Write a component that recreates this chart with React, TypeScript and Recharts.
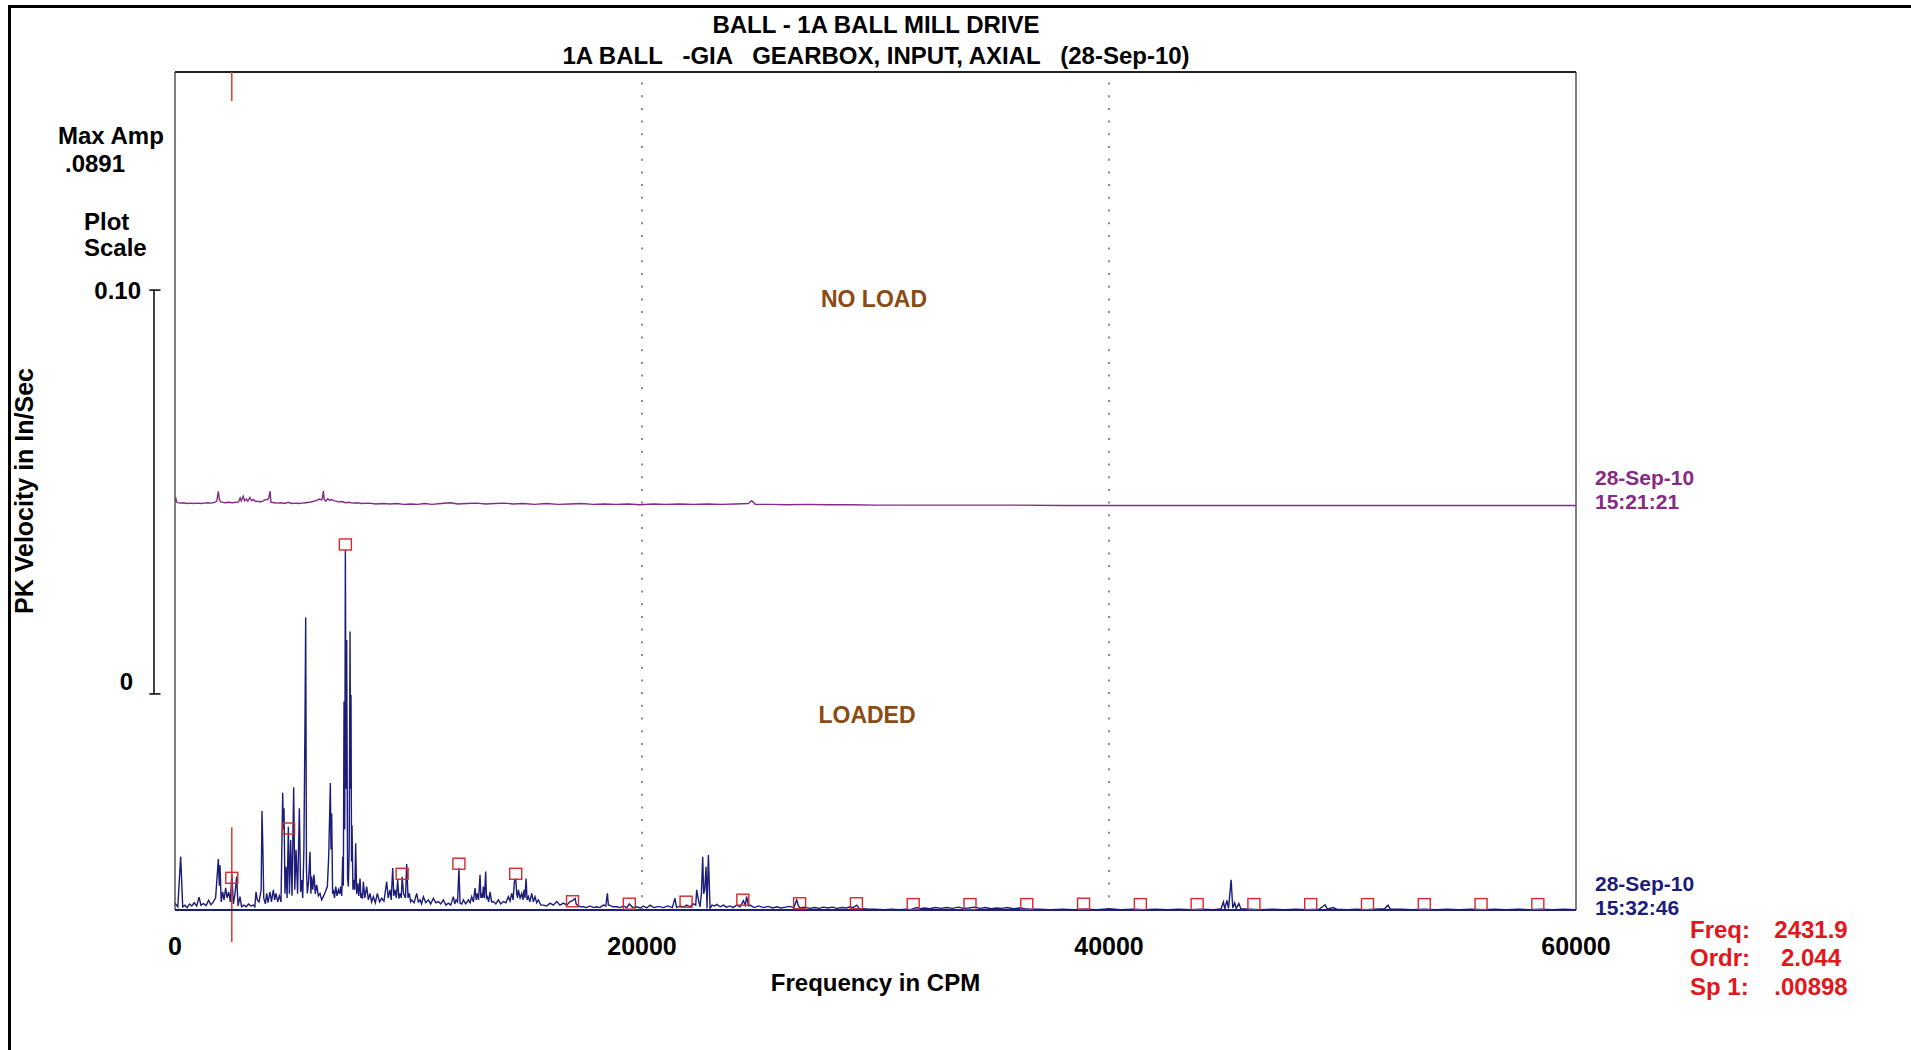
import React from "react";
import { ComposedChart, Line, Scatter, XAxis, YAxis, ReferenceLine } from "recharts";

// Waterfall spectrum plot: two velocity spectra (no load / loaded) stacked
// with a 0.10 in/sec offset, harmonic cursor at 2431.9 CPM.

type Pt = [number, number]; // [CPM, PK in/sec]

const FONT = "'Liberation Sans', Arial, sans-serif";
const NAVY = "#1c1c7a";
const PURPLE = "#862a86";
const RED = "#e3161c";
const BROWN = "#8b4a12";

const AMP_TOP = 0.2074;
const NOLOAD_OFFSET = 0.1;
const CURSOR_CPM = 2431.9;

const X_TICKS = [0, 20000, 40000, 60000];
const GRID_CPM = [20000, 40000];
const SCALE_TICKS = [0, 0.1];

// loaded run, 15:32:46
const LOADED_0_4K: Pt[] = [
  [0, 0.0017], [120, 0.0008], [243, 0.0132], [330, 0.0008], [420, 0.0012], [520, 0.0006],
  [620, 0.0015], [720, 0.001], [820, 0.0018], [930, 0.001], [1030, 0.0032], [1110, 0.0012],
  [1220, 0.0016], [1330, 0.0011], [1440, 0.0024], [1540, 0.0013], [1640, 0.002], [1740, 0.003],
  [1856, 0.0126], [1900, 0.006], [1928, 0.0111], [1980, 0.002], [2040, 0.0045], [2100, 0.0025],
  [2170, 0.0055], [2230, 0.003], [2300, 0.0045], [2370, 0.002], [2432, 0.009], [2500, 0.0015],
  [2570, 0.004], [2641, 0.0083], [2700, 0.001], [2784, 0.0033], [2850, 0.0008], [2950, 0.0012],
  [3050, 0.0008], [3150, 0.0015], [3250, 0.001], [3350, 0.0012], [3420, 0.0008], [3469, 0.0045],
  [3527, 0.0025], [3600, 0.002], [3690, 0.005], [3726, 0.0245], [3760, 0.0161], [3800, 0.003],
  [3870, 0.0015], [3926, 0.0041], [3980, 0.0018],
];
const LOADED_4K_8K: Pt[] = [
  [4069, 0.0045], [4130, 0.002], [4212, 0.005], [4270, 0.0025], [4326, 0.0041], [4400, 0.002],
  [4470, 0.0035], [4540, 0.002], [4612, 0.029], [4640, 0.02], [4669, 0.0252], [4710, 0.004],
  [4754, 0.0107], [4800, 0.003], [4854, 0.0206], [4900, 0.004], [4954, 0.0173], [5010, 0.0035],
  [5083, 0.0304], [5130, 0.005], [5183, 0.0149], [5250, 0.004], [5326, 0.0252], [5380, 0.0045],
  [5425, 0.0074], [5470, 0.003], [5520, 0.0149], [5568, 0.047], [5597, 0.0724], [5630, 0.01],
  [5668, 0.0041], [5720, 0.007], [5782, 0.0144], [5820, 0.004], [5854, 0.0083], [5900, 0.005],
  [5954, 0.0087], [6010, 0.004], [6068, 0.0062], [6140, 0.0035], [6211, 0.0041], [6280, 0.0025],
  [6353, 0.0033], [6440, 0.0045], [6525, 0.0058], [6582, 0.0132], [6653, 0.0314], [6680, 0.015],
  [6710, 0.0239], [6750, 0.004], [6782, 0.005], [6830, 0.003], [6882, 0.0058], [6940, 0.0035],
  [6996, 0.005], [7050, 0.004], [7096, 0.0058], [7140, 0.0035], [7182, 0.0132], [7210, 0.006],
  [7239, 0.0516], [7270, 0.02], [7296, 0.0891], [7330, 0.03], [7353, 0.0668], [7390, 0.008],
  [7424, 0.0058], [7460, 0.015], [7496, 0.0689], [7520, 0.03], [7538, 0.0532], [7560, 0.012],
  [7581, 0.021], [7620, 0.005], [7667, 0.0074], [7700, 0.005], [7738, 0.0165], [7780, 0.004],
  [7824, 0.0066], [7870, 0.0035], [7924, 0.0078], [7960, 0.003],
];
const LOADED_8K_14K: Pt[] = [
  [7995, 0.0041], [8030, 0.0028], [8067, 0.007], [8130, 0.003], [8209, 0.0058], [8280, 0.0025],
  [8352, 0.0041], [8420, 0.002], [8495, 0.0033], [8580, 0.0018], [8666, 0.0041], [8760, 0.002],
  [8852, 0.0029], [8950, 0.0022], [9066, 0.007], [9130, 0.003], [9209, 0.005], [9260, 0.0025],
  [9323, 0.0104], [9370, 0.0035], [9423, 0.005], [9480, 0.003], [9537, 0.0074], [9590, 0.0028],
  [9637, 0.0041], [9690, 0.003], [9728, 0.0082], [9790, 0.004], [9870, 0.003], [9923, 0.0114],
  [9980, 0.003], [10037, 0.0041], [10090, 0.002], [10137, 0.0025], [10240, 0.0018], [10351, 0.0041],
  [10420, 0.002], [10494, 0.0025], [10560, 0.0015], [10637, 0.0033], [10740, 0.0018], [10851, 0.0025],
  [10950, 0.0015], [11065, 0.0029], [11170, 0.0018], [11279, 0.0021], [11380, 0.0015], [11493, 0.0025],
  [11600, 0.0012], [11707, 0.0017], [11810, 0.0012], [11921, 0.0033], [11980, 0.0015], [12036, 0.0025],
  [12100, 0.002], [12160, 0.0103], [12207, 0.0017], [12280, 0.0015], [12350, 0.0025], [12450, 0.0015],
  [12564, 0.0025], [12640, 0.0018], [12707, 0.0033], [12780, 0.002], [12850, 0.0054], [12900, 0.0025],
  [12949, 0.0041], [13000, 0.0025], [13064, 0.0087], [13100, 0.003], [13135, 0.0041], [13170, 0.003],
  [13206, 0.0058], [13250, 0.003], [13306, 0.0095], [13340, 0.003], [13378, 0.0033], [13430, 0.002],
  [13492, 0.0045], [13560, 0.002], [13635, 0.0021], [13740, 0.0015], [13849, 0.0025], [13950, 0.0015],
];
const LOADED_14K_22K: Pt[] = [
  [14063, 0.0021], [14170, 0.0018], [14277, 0.0033], [14350, 0.0022], [14420, 0.0041], [14480, 0.0025],
  [14534, 0.007], [14591, 0.0078], [14634, 0.0041], [14670, 0.003], [14705, 0.005], [14780, 0.003],
  [14848, 0.0041], [14900, 0.0025], [14948, 0.005], [14990, 0.003], [15034, 0.0078], [15080, 0.0025],
  [15134, 0.0033], [15200, 0.002], [15277, 0.0041], [15350, 0.002], [15419, 0.0033], [15490, 0.0018],
  [15562, 0.0025], [15670, 0.0012], [15776, 0.0012], [15920, 0.001], [16062, 0.0017], [16200, 0.0012],
  [16347, 0.0021], [16490, 0.0012], [16633, 0.0017], [16780, 0.0012], [16918, 0.0021], [17023, 0.0023],
  [17133, 0.0029], [17180, 0.0015], [17233, 0.0012], [17360, 0.0008], [17489, 0.0008], [17630, 0.0006],
  [17775, 0.001], [17920, 0.0006], [18061, 0.0008], [18200, 0.0006], [18346, 0.0012], [18450, 0.001],
  [18517, 0.0041], [18560, 0.0012], [18603, 0.0012], [18760, 0.0008], [18917, 0.0008], [19060, 0.0006],
  [19203, 0.001], [19350, 0.0006], [19455, 0.0015], [19600, 0.0006], [19774, 0.0008], [19920, 0.0005],
  [20060, 0.001], [20200, 0.0005], [20345, 0.0012], [20500, 0.0006], [20700, 0.0009], [20916, 0.0006],
  [21100, 0.001], [21300, 0.0006], [21412, 0.0029], [21480, 0.0006], [21630, 0.001], [21780, 0.0007],
  [21915, 0.0012], [22050, 0.0008], [22200, 0.0015], [22300, 0.0012],
];
const LOADED_22K_38K: Pt[] = [
  [22343, 0.005], [22415, 0.0025], [22486, 0.0008], [22543, 0.004], [22600, 0.0132], [22640, 0.004],
  [22686, 0.005], [22743, 0.0107], [22785, 0.0004], [22843, 0.0136], [22914, 0.0004], [23000, 0.0012],
  [23100, 0.001], [23200, 0.0014], [23350, 0.0008], [23486, 0.0012], [23620, 0.0007], [23771, 0.001],
  [23900, 0.0006], [24057, 0.0012], [24200, 0.0008], [24342, 0.0023], [24420, 0.0012], [24485, 0.0033],
  [24560, 0.001], [24628, 0.0012], [24800, 0.0006], [25000, 0.001], [25199, 0.0006], [25400, 0.0009],
  [25600, 0.0005], [25770, 0.0008], [25950, 0.0005], [26150, 0.0007], [26341, 0.0009], [26500, 0.0006],
  [26627, 0.0025], [26700, 0.001], [26770, 0.0005], [26950, 0.0007], [27198, 0.0004], [27400, 0.0006],
  [27600, 0.0004], [27769, 0.0007], [27950, 0.0005], [28150, 0.0007], [28340, 0.0004], [28550, 0.0006],
  [28750, 0.0005], [28911, 0.0008], [29050, 0.0006], [29196, 0.0012], [29300, 0.0004], [29482, 0.0003],
  [29700, 0.0002], [30000, 0.0002], [30339, 0.0001], [30700, 0.0002], [31000, 0.0001], [31338, 0.0002],
  [31500, 0.0001], [31766, 0.0006], [31900, 0.0003], [32100, 0.0005], [32337, 0.0003], [32550, 0.0006],
  [32800, 0.0004], [33051, 0.0006], [33300, 0.0004], [33550, 0.0007], [33765, 0.0004], [34000, 0.0005],
  [34250, 0.0007], [34479, 0.0004], [34700, 0.0006], [34950, 0.0003], [35193, 0.0005], [35400, 0.0004],
  [35650, 0.0006], [35907, 0.0003], [36150, 0.0005], [36400, 0.0003], [36620, 0.0002], [37000, 0.0002],
  [37477, 0.0001],
];
const LOADED_38K_60K: Pt[] = [
  [38000, 0.0002], [38500, 0.0001], [39000, 0.0002], [39500, 0.0001], [40000, 0.0003], [40500, 0.0001],
  [41000, 0.0002], [41500, 0.0001], [42000, 0.0002], [42500, 0.0001], [43000, 0.0002], [43500, 0.0001],
  [44000, 0.0002], [44500, 0.0001], [44800, 0.0003], [44900, 0.002], [44960, 0.0003], [45050, 0.0024],
  [45120, 0.0004], [45230, 0.0075], [45300, 0.0005], [45380, 0.0018], [45450, 0.0004], [45560, 0.0016],
  [45650, 0.0003], [46000, 0.0002], [46500, 0.0001], [47000, 0.0002], [47500, 0.0001], [48000, 0.0002],
  [48500, 0.0001], [49000, 0.0002], [49250, 0.0013], [49350, 0.0002], [49600, 0.0006], [49750, 0.0002],
  [50200, 0.0001], [50600, 0.0002], [51000, 0.0001], [51400, 0.0002], [51800, 0.0003], [51950, 0.0012],
  [52050, 0.0002], [52500, 0.0002], [53000, 0.0001], [53500, 0.0002], [54000, 0.0001], [54500, 0.0002],
  [55000, 0.0001], [55500, 0.0002], [56000, 0.0001], [56500, 0.0002], [57000, 0.0001], [57500, 0.0002],
  [58000, 0.0001], [58500, 0.0002], [59000, 0.0001], [59500, 0.0002], [60000, 0.0001],
];

// no-load run, 15:21:21 (plotted 0.10 higher)
const NOLOAD_0_8K: Pt[] = [
  [0, 0.001], [40, 0.0018], [80, 0.0009], [200, 0.0007], [350, 0.0008], [500, 0.0006], [650, 0.0007],
  [800, 0.0006], [950, 0.0007], [1100, 0.0006], [1250, 0.0007], [1400, 0.0008], [1550, 0.0007],
  [1700, 0.0009], [1790, 0.0012], [1855, 0.0036], [1900, 0.0016], [1960, 0.001], [2050, 0.0009],
  [2150, 0.0008], [2300, 0.0009], [2450, 0.0008], [2600, 0.0009], [2720, 0.001], [2790, 0.002],
  [2840, 0.0012], [2920, 0.0024], [2980, 0.0013], [3060, 0.0017], [3120, 0.0012], [3210, 0.0021],
  [3280, 0.0013], [3360, 0.0016], [3440, 0.0011], [3540, 0.0012], [3640, 0.001], [3760, 0.0012],
  [3850, 0.0015], [3960, 0.0016], [4020, 0.002], [4069, 0.0037], [4110, 0.0009], [4250, 0.0008],
  [4400, 0.0007], [4550, 0.0008], [4700, 0.0006], [4850, 0.0009], [5000, 0.0006], [5150, 0.0007],
  [5300, 0.0006], [5450, 0.0007], [5600, 0.0008], [5750, 0.0009], [5900, 0.0011], [6050, 0.0013],
  [6180, 0.0017], [6280, 0.0015], [6320, 0.0022], [6353, 0.0037], [6390, 0.0016], [6460, 0.0012],
  [6540, 0.0018], [6620, 0.0014], [6700, 0.0016], [6800, 0.0013], [6900, 0.0012], [7000, 0.001],
  [7150, 0.0011], [7300, 0.0008], [7450, 0.0009], [7600, 0.0007], [7800, 0.0008],
];
const NOLOAD_8K_60K: Pt[] = [
  [8000, 0.0006], [8300, 0.0007], [8600, 0.0005], [8900, 0.0006], [9200, 0.0005], [9500, 0.0006],
  [9800, 0.0004], [10100, 0.0005], [10400, 0.0004], [10700, 0.0006], [11000, 0.0004], [11400, 0.0006],
  [11800, 0.0008], [12100, 0.0005], [12500, 0.0006], [12900, 0.0007], [13300, 0.0005], [13700, 0.0006],
  [14100, 0.0007], [14500, 0.0005], [14900, 0.0006], [15400, 0.0004], [15900, 0.0006], [16400, 0.0004],
  [16900, 0.0005], [17400, 0.0006], [17900, 0.0004], [18400, 0.0005], [18900, 0.0004], [19400, 0.0005],
  [19900, 0.0003], [20500, 0.0005], [21000, 0.0004], [21600, 0.0005], [22200, 0.0004], [22800, 0.0005],
  [23400, 0.0004], [24000, 0.0005], [24550, 0.0006], [24700, 0.0013], [24850, 0.0004], [25500, 0.0004],
  [26200, 0.0003], [27000, 0.0004], [28000, 0.0003], [29000, 0.0003], [30000, 0.0002], [32000, 0.0002],
  [34000, 0.0002], [36000, 0.0002], [38000, 0.0001], [40000, 0.0001], [44000, 0.0001], [48000, 0.0001],
  [52000, 0.0001], [56000, 0.0001], [60000, 0.0001],
];

// harmonic markers of the cursor frequency (box sits on top of the value)
const HARMONIC_CPM = [
  2431.9, 4863.8, 7295.7, 9727.6, 12159.5, 14591.4, 17023.3, 19455.2, 21887.1, 24319.0, 26750.9, 29182.8,
  31614.7, 34046.6, 36478.5, 38910.4, 41342.3, 43774.2, 46206.1, 48638.0, 51069.9, 53501.8, 55933.7, 58365.6,
];
const HARMONIC_AMP = [
  0.0066, 0.0188, 0.0891, 0.0076, 0.0101, 0.0076, 0.0008, 0.0002, 0.0007, 0.0012, 0.0003, 0.0003,
  0.0001, 0.0001, 0.0001, 0.0002, 0.0001, 0.0001, 0.0001, 0.0001, 0.0001, 0.0001, 0.0001, 0.0001,
];

const loadedData = [
  ...LOADED_0_4K, ...LOADED_4K_8K, ...LOADED_8K_14K, ...LOADED_14K_22K, ...LOADED_22K_38K, ...LOADED_38K_60K,
].map(([f, v]) => ({ f, v }));
const noLoadData = [...NOLOAD_0_8K, ...NOLOAD_8K_60K].map(([f, v]) => ({ f, v: v + NOLOAD_OFFSET }));
const markerData = HARMONIC_CPM.map((f, i) => ({ f, v: HARMONIC_AMP[i] }));

const bold = { fontFamily: FONT, fontWeight: "bold" as const };

function MarkerBox(props: any) {
  const { cx, cy } = props;
  if (cx == null || cy == null) return null;
  return <rect x={cx - 6} y={cy - 11} width={12} height={11} fill="none" stroke="#d42a2a" strokeWidth={1.4} />;
}

export default function App() {
  const txt = (x: number, y: number, s: string, fill = "#000", anchor: "start" | "middle" | "end" = "start", size = 24) => (
    <text x={x} y={y} textAnchor={anchor} dominantBaseline="central" fontSize={size} fill={fill} style={{ whiteSpace: "pre" }} {...bold}>
      {s}
    </text>
  );

  return (
    <div style={{ position: "absolute", left: 0, top: 0, width: 1911, height: 1050, background: "#fff" }}>
      <div style={{ position: "absolute", left: 8, top: 5, width: 1903, height: 1045, borderLeft: "3px solid #000", borderTop: "3px solid #000", boxSizing: "border-box" }} />
      <ComposedChart width={1911} height={1050} margin={{ top: 72, right: 335, bottom: 0, left: 0 }}>
        <XAxis
          type="number"
          dataKey="f"
          domain={[0, 60000]}
          ticks={X_TICKS}
          interval={0}
          height={140}
          tickLine={false}
          tickSize={6}
          tickMargin={21}
          axisLine={{ stroke: NAVY, strokeWidth: 2 }}
          tick={{ fontSize: 25, fill: "#000", ...bold }}
          allowDataOverflow
          label={{ value: "Frequency in CPM", position: "insideBottom", offset: 59, style: { fontSize: 24, fill: "#000", ...bold } }}
        />
        <YAxis yAxisId="amp" hide type="number" domain={[0, AMP_TOP]} allowDataOverflow />
        <YAxis
          yAxisId="scale"
          type="number"
          domain={[-0.0535, 0.154]}
          ticks={SCALE_TICKS}
          interval={0}
          width={175}
          axisLine={false}
          tickLine={false}
          tick={false}
          allowDataOverflow
        />

        {GRID_CPM.map((g) => (
          <ReferenceLine key={g} yAxisId="amp" x={g} stroke="#666" strokeWidth={1.5} strokeDasharray="2 10.7" />
        ))}
        <ReferenceLine yAxisId="amp" x={0} stroke="#7f7f7f" strokeWidth={2} ifOverflow="visible" />
        <ReferenceLine yAxisId="amp" x={60000} stroke="#7f7f7f" strokeWidth={2} ifOverflow="visible" />
        <ReferenceLine yAxisId="amp" y={AMP_TOP} stroke="#222" strokeWidth={2} ifOverflow="visible" />

        {/* plot scale bracket */}
        <ReferenceLine yAxisId="scale" ifOverflow="visible" stroke="#000" strokeWidth={1.5} segment={[{ x: -900, y: 0 }, { x: -900, y: 0.1 }]} />
        <ReferenceLine yAxisId="scale" ifOverflow="visible" stroke="#000" strokeWidth={1.5} segment={[{ x: -1100, y: 0.1 }, { x: -620, y: 0.1 }]} />
        <ReferenceLine yAxisId="scale" ifOverflow="visible" stroke="#000" strokeWidth={1.5} segment={[{ x: -1100, y: 0 }, { x: -620, y: 0 }]} />

        <Line yAxisId="amp" data={noLoadData} dataKey="v" type="linear" stroke={PURPLE} strokeWidth={1.4} dot={false} isAnimationActive={false} />
        <Line yAxisId="amp" data={loadedData} dataKey="v" type="linear" stroke={NAVY} strokeWidth={1.4} dot={false} isAnimationActive={false} />
        <Scatter yAxisId="amp" data={markerData} dataKey="v" shape={<MarkerBox />} isAnimationActive={false} />

        {/* cursor */}
        <ReferenceLine yAxisId="amp" ifOverflow="visible" stroke="#d83a3a" strokeWidth={1.5} segment={[{ x: CURSOR_CPM, y: AMP_TOP }, { x: CURSOR_CPM, y: 0.2002 }]} />
        <ReferenceLine yAxisId="amp" ifOverflow="visible" stroke="#d83a3a" strokeWidth={1.5} segment={[{ x: CURSOR_CPM, y: 0.0205 }, { x: CURSOR_CPM, y: -0.0079 }]} />
      </ComposedChart>

      <svg width={1911} height={1050} style={{ position: "absolute", left: 0, top: 0, pointerEvents: "none" }}>
        {txt(876, 24, "BALL - 1A BALL MILL DRIVE", "#000", "middle")}
        {txt(876, 55, "1A BALL   -GIA   GEARBOX, INPUT, AXIAL   (28-Sep-10)", "#000", "middle")}
        {txt(58, 135, "Max Amp")}
        {txt(65, 163, ".0891")}
        {txt(84, 221, "Plot")}
        {txt(84, 247, "Scale")}
        {txt(141, 290, "0.10", "#000", "end")}
        {txt(133, 681, "0", "#000", "end")}
        <text
          x={24}
          y={491}
          transform="rotate(-90 24 491)"
          textAnchor="middle"
          dominantBaseline="central"
          fontSize={25}
          fill="#000"
          {...bold}
        >
          PK Velocity in In/Sec
        </text>
        {txt(874, 299, "NO LOAD", BROWN, "middle", 23)}
        {txt(867, 715, "LOADED", BROWN, "middle", 23)}
        {txt(1595, 477, "28-Sep-10", PURPLE, "start", 21)}
        {txt(1595, 501, "15:21:21", PURPLE, "start", 21)}
        {txt(1595, 883, "28-Sep-10", NAVY, "start", 21)}
        {txt(1595, 907, "15:32:46", NAVY, "start", 21)}
        {txt(1690, 929, "Freq:", RED)}
        {txt(1690, 957, "Ordr:", RED)}
        {txt(1690, 986, "Sp 1:", RED)}
        {txt(1811, 929, "2431.9", RED, "middle")}
        {txt(1811, 957, "2.044", RED, "middle")}
        {txt(1811, 986, ".00898", RED, "middle")}
      </svg>
    </div>
  );
}
